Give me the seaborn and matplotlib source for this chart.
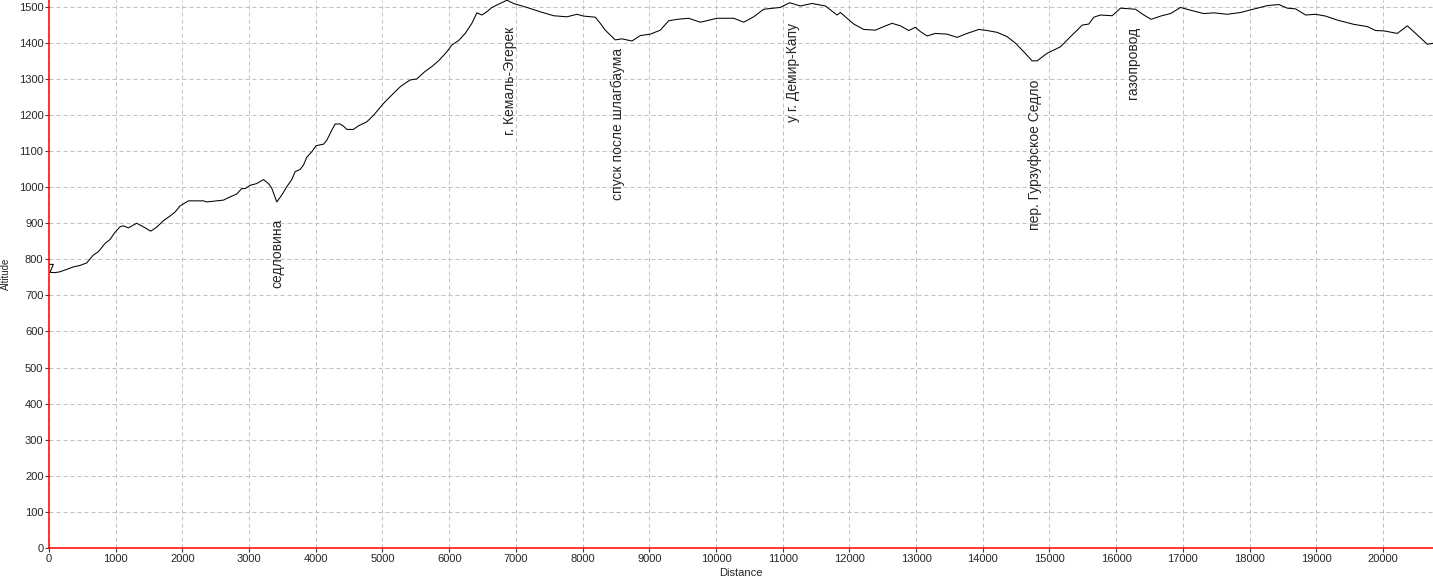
# -*- coding: utf-8 -*-
"""
Altitude profile of the track with named waypoints
"""

import numpy as np
import pandas as pd
import matplotlib
matplotlib.use('Agg')
import matplotlib.pyplot as plt
import seaborn as sns


#%% DATA

distance = [0, 65, 15, 80, 155, 265, 365, 465, 565, 665, 740, 840, 915, 990, 1065,
            1115, 1190, 1315, 1415, 1525, 1615, 1715, 1815, 1890, 1965, 2090,
            2315, 2365, 2515, 2615, 2715, 2815, 2890, 2940, 3015, 3115, 3215,
            3290, 3340, 3415, 3490, 3565, 3640, 3690, 3765, 3815, 3865, 3940,
            4005, 4115, 4165, 4240, 4290, 4365, 4415, 4465, 4565, 4640, 4765,
            4865, 5015, 5165, 5265, 5340, 5415, 5515, 5640, 5740, 5840, 5965,
            6040, 6140, 6240, 6340, 6415, 6490, 6565, 6640, 6765, 6865, 6965,
            7165, 7365, 7565, 7765, 7915, 8015, 8190, 8265, 8340, 8490, 8590,
            8740, 8865, 9015, 9165, 9290, 9415, 9590, 9765, 10015, 10265, 10415,
            10565, 10715, 10965, 11105, 11265, 11440, 11640, 11815, 11865,
            11965, 12065, 12215, 12390, 12515, 12640, 12765, 12890, 12990,
            13065, 13165, 13290, 13465, 13615, 13765, 13940, 14065, 14215,
            14365, 14490, 14615, 14740, 14815, 14965, 15165, 15315, 15415,
            15490, 15590, 15665, 15765, 15940, 16065, 16290, 16415, 16525,
            16665, 16815, 16965, 17140, 17315, 17465, 17665, 17865, 18115,
            18265, 18440, 18565, 18690, 18840, 18990, 19140, 19315, 19565,
            19765, 19890, 20015, 20215, 20365, 20490, 20665, 20765]

altitude = [786, 786, 764, 763, 765, 772, 779, 783, 790, 812, 821, 844, 855, 875, 890,
            893, 887, 900, 890, 878, 889, 907, 920, 931, 948, 962,
            962, 959, 962, 964, 973, 981, 996, 996, 1005, 1010, 1021,
            1010, 997, 959, 978, 1001, 1021, 1043, 1049, 1061, 1083, 1098,
            1115, 1119, 1130, 1158, 1175, 1175, 1169, 1160, 1160, 1170, 1181,
            1199, 1232, 1260, 1278, 1288, 1297, 1300, 1321, 1334, 1350, 1375,
            1394, 1406, 1426, 1454, 1483, 1477, 1486, 1498, 1509, 1518, 1509,
            1498, 1486, 1475, 1472, 1479, 1474, 1471, 1454, 1435, 1408, 1411,
            1405, 1420, 1424, 1435, 1461, 1465, 1468, 1457, 1468, 1468, 1457,
            1472, 1493, 1498, 1511, 1502, 1509, 1502, 1477, 1484,
            1468, 1452, 1437, 1435, 1445, 1454, 1447, 1434, 1443,
            1431, 1419, 1426, 1424, 1415, 1426, 1437, 1434, 1429,
            1417, 1399, 1375, 1350, 1350, 1371, 1389, 1417, 1435,
            1449, 1452, 1471, 1477, 1475, 1496, 1493, 1477, 1465,
            1474, 1481, 1498, 1489, 1481, 1483, 1479, 1484, 1496,
            1503, 1506, 1496, 1494, 1477, 1479, 1474, 1463, 1451,
            1445, 1434, 1433, 1426, 1447, 1426, 1396, 1399]

wpt_names = ['седловина', 'г. Кемаль-Эгерек', 'спуск после шлагбаума',
             'у г. Демир-Капу', 'пер. Гурзуфское Седло', 'газопровод']
wpt_dist = [3418, 6912, 8530, 11150, 14780, 16250]
wpt_alt = [964, 1494, 1435, 1504, 1347, 1494]

x_ticks = np.arange(0, 20001, 1000)
y_ticks = np.arange(0, 1501, 100)

profile = pd.DataFrame({'Distance': distance, 'Altitude': altitude})


#%% PLOT

sns.set_style('white')
plt.rcParams['font.family'] = ['Liberation Sans', 'DejaVu Sans']

fig = plt.figure(figsize=(14.33, 5.81), dpi=100)
ax = fig.add_axes([49 / 1433, 33 / 581, 1384 / 1433, 548 / 581])

sns.lineplot(data=profile, x='Distance', y='Altitude', sort=False,
             estimator=None, color='black', linewidth=0.75, ax=ax)

for name, d, a in zip(wpt_names, wpt_dist, wpt_alt):
    ax.annotate(name, xy=(d, a), xytext=(0, -13), textcoords='offset points',
                rotation=90, ha='center', va='top', fontsize=10)

ax.set_xlim(0, 20750)
ax.set_ylim(0, 1518.6)
ax.set_xticks(x_ticks)
ax.set_yticks(y_ticks)
ax.grid(True, color='#c0c0c0', linestyle=(0, (4, 3)), linewidth=0.72)
ax.tick_params(axis='both', length=3, width=0.8, color='#404040',
               labelsize=8, pad=1, direction='out', left=True, bottom=True)

for side in ['top', 'right']:
    ax.spines[side].set_visible(False)
for side in ['left', 'bottom']:
    ax.spines[side].set_color('red')
    ax.spines[side].set_linewidth(1.1)

ax.set_xlabel('Distance', fontsize=8, labelpad=3)
ax.set_ylabel('Altitude', fontsize=7, va='center')
ax.yaxis.set_label_coords(-43 / 1384, 0.5)

fig.savefig('out.png', dpi=100)
